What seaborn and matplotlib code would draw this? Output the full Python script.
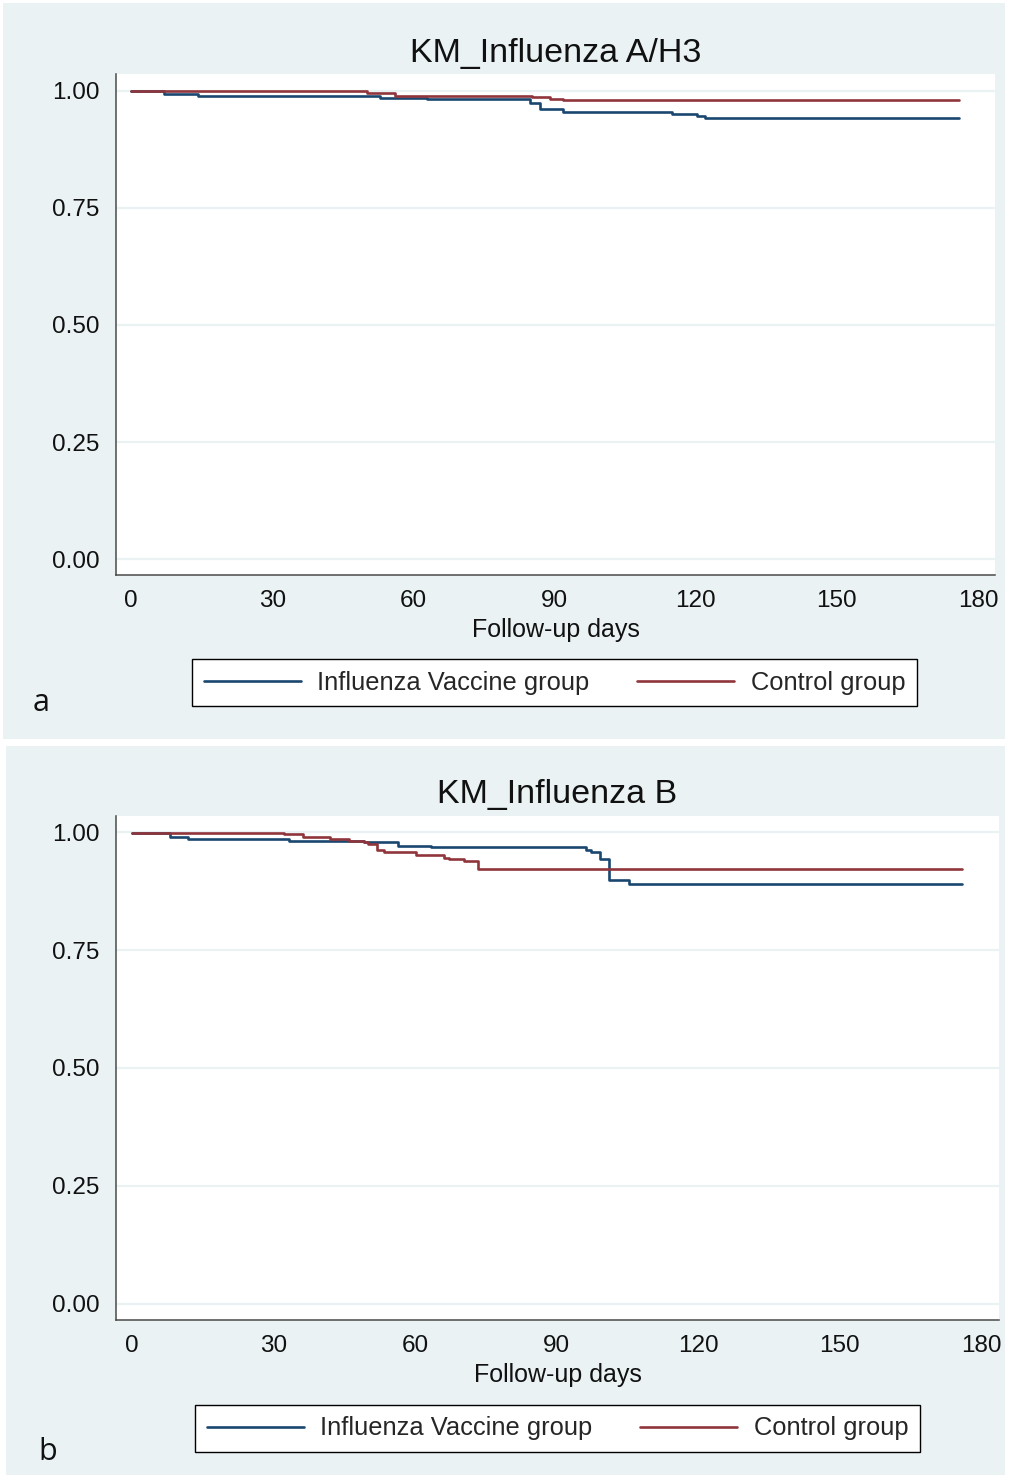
# Kaplan-Meier curves for influenza A/H3 and B (two stacked panels)
# =============================================================

import matplotlib
matplotlib.use("Agg")
import pandas as pd
import matplotlib.pyplot as plt
import seaborn as sns
from matplotlib.lines import Line2D
from matplotlib.patches import Rectangle

# -------------------------------------------------------------
# DATA
# -------------------------------------------------------------

GROUPS = ["Influenza Vaccine group", "Control group"]

# panel a: KM_Influenza A/H3
a_vacc_days = [0, 7.0, 14.3, 52.9, 62.8, 84.8, 86.9, 91.9, 114.9, 120.2, 122.0, 176]
a_vacc_surv = [1.000, 0.994, 0.988, 0.985, 0.982, 0.973, 0.961, 0.955, 0.951, 0.947, 0.942, 0.942]
a_ctrl_days = [0, 50.1, 56.1, 85.1, 89.0, 91.9, 176]
a_ctrl_surv = [1.000, 0.995, 0.990, 0.986, 0.983, 0.980, 0.980]

# panel b: KM_Influenza B
b_vacc_days = [0, 8.1, 11.9, 33.2, 49.2, 56.3, 63.4, 96.2, 97.3, 99.3, 101.2, 105.3, 176]
b_vacc_surv = [0.998, 0.989, 0.985, 0.982, 0.979, 0.971, 0.968, 0.963, 0.957, 0.943, 0.898, 0.890, 0.890]
b_ctrl_days = [0, 32.3, 36.2, 42.0, 46.1, 49.2, 50.1, 51.9, 53.4, 60.2, 66.2, 67.3, 70.4, 73.3, 176]
b_ctrl_surv = [0.998, 0.995, 0.990, 0.986, 0.982, 0.978, 0.975, 0.962, 0.958, 0.951, 0.946, 0.943, 0.939, 0.921, 0.921]

X_TICKS = [0, 30, 60, 90, 120, 150, 180]
Y_TICKS = [0.0, 0.25, 0.5, 0.75, 1.0]

# -------------------------------------------------------------
# STYLE
# -------------------------------------------------------------

BG = "#eaf2f3"
COLORS = {"Influenza Vaccine group": "#1a476f", "Control group": "#90353b"}
AXIS_COLOR = "#4a4a4a"

sns.set_style("white")
plt.rcParams["font.family"] = ["Liberation Sans", "DejaVu Sans"]

W, H = 1009, 1479


def make_frame(vacc_days, vacc_surv, ctrl_days, ctrl_surv):
    df_v = pd.DataFrame({"day": vacc_days, "surv": vacc_surv, "group": GROUPS[0]})
    df_c = pd.DataFrame({"day": ctrl_days, "surv": ctrl_surv, "group": GROUPS[1]})
    return pd.concat([df_v, df_c], ignore_index=True)


def draw_panel(fig, rect, df, title, xlim, ylim, legend_xy, letter, letter_xy):
    ax = fig.add_axes(rect)
    ax.set_facecolor("white")

    for g in Y_TICKS:
        ax.axhline(g, color=BG, lw=1.6, zorder=0)

    sns.lineplot(
        data=df, x="day", y="surv", hue="group", hue_order=GROUPS,
        palette=COLORS, drawstyle="steps-post", estimator=None,
        linewidth=1.9, legend=False, ax=ax
    )

    ax.set_xlim(*xlim)
    ax.set_ylim(*ylim)
    ax.set_xticks(X_TICKS)
    ax.set_yticks(Y_TICKS)
    ax.set_yticklabels([f"{v:.2f}" for v in Y_TICKS])
    ax.tick_params(axis="both", direction="out", length=7, width=1.1,
                   color=AXIS_COLOR, labelsize=17.5, pad=5, labelcolor="#111111")
    ax.tick_params(axis="x", pad=4)

    for side in ["top", "right"]:
        ax.spines[side].set_visible(False)
    for side in ["left", "bottom"]:
        ax.spines[side].set_color(AXIS_COLOR)
        ax.spines[side].set_linewidth(1.1)

    ax.set_xlabel("Follow-up days", fontsize=18, labelpad=4, color="#111111")
    ax.set_ylabel("")
    ax.set_title(title, fontsize=24.5, pad=9, color="#111111")

    handles = [Line2D([], [], color=COLORS[g], lw=1.9) for g in GROUPS]
    leg = ax.legend(
        handles, GROUPS, loc="center", bbox_to_anchor=legend_xy,
        bbox_transform=fig.transFigure, ncol=2, frameon=True, fancybox=False,
        fontsize=18.4, handlelength=3.8, handletextpad=0.65,
        columnspacing=1.85, borderpad=0.45
    )
    leg.get_frame().set_edgecolor("black")
    leg.get_frame().set_linewidth(1.0)
    leg.get_frame().set_facecolor("white")
    leg.get_frame().set_alpha(1)

    fig.text(letter_xy[0], letter_xy[1], letter, fontsize=22, family="Open Sans",
             ha="left", va="center", color="#111111")
    return ax


# -------------------------------------------------------------
# FIGURE
# -------------------------------------------------------------

fig = plt.figure(figsize=(W / 100, H / 100), dpi=100)
fig.patch.set_facecolor("white")

# panel backgrounds (pixel boxes converted to figure fractions)
fig.add_artist(Rectangle((3 / W, 1 - 739 / H), 1002 / W, 736 / H,
                         transform=fig.transFigure, facecolor=BG,
                         edgecolor="none", zorder=-5))
fig.add_artist(Rectangle((6 / W, 1 - 1475 / H), 999 / W, 729 / H,
                         transform=fig.transFigure, facecolor=BG,
                         edgecolor="none", zorder=-5))

df_a = make_frame(a_vacc_days, a_vacc_surv, a_ctrl_days, a_ctrl_surv)
df_b = make_frame(b_vacc_days, b_vacc_surv, b_ctrl_days, b_ctrl_surv)

draw_panel(
    fig, [116 / W, 1 - 575 / H, 879 / W, 501 / H], df_a, "KM_Influenza A/H3",
    xlim=(-3.2, 183.6), ylim=(-0.034, 1.036),
    legend_xy=(554.5 / W, 1 - 683 / H), letter="a", letter_xy=(33 / W, 1 - 703 / H)
)
draw_panel(
    fig, [116 / W, 1 - 1320 / H, 883 / W, 504 / H], df_b, "KM_Influenza B",
    xlim=(-3.4, 183.8), ylim=(-0.034, 1.034),
    legend_xy=(557.5 / W, 1 - 1428.5 / H), letter="b", letter_xy=(38 / W, 1 - 1452 / H)
)

fig.savefig("out.png", dpi=100, facecolor=fig.get_facecolor())
